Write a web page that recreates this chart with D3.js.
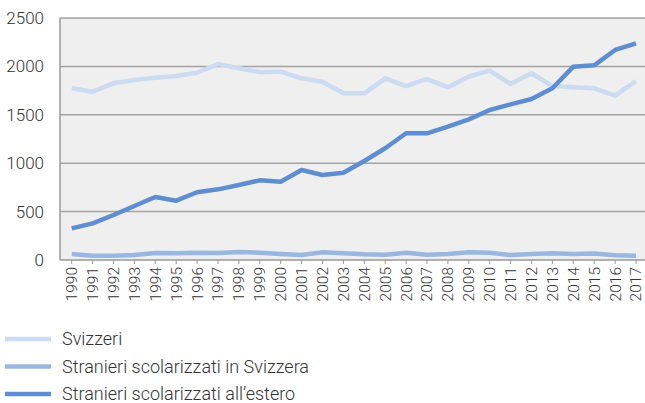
<!DOCTYPE html>
<meta charset="utf-8">
<style>
body { margin: 0; background: #fff; }
text { font-family: Roboto, sans-serif; font-weight: 300; fill: #333; }
.grid line { stroke: #a3a3a3; stroke-width: 1.5px; }
.line { fill: none; stroke-width: 4.5px; stroke-linejoin: round; }
</style>
<svg width="645" height="403"></svg>
<script src="https://d3js.org/d3.v7.min.js"></script>
<script>

var years = d3.range(1990, 2018);
var svizzeri = [1774, 1739, 1825, 1860, 1883, 1901, 1935, 2025, 1980, 1942, 1945, 1877, 1842, 1722,
                1722, 1877, 1797, 1870, 1784, 1894, 1956, 1818, 1929, 1797, 1784, 1774, 1698, 1849];
var inSvizzera = [62, 45, 45, 52, 72, 69, 76, 72, 83, 76, 62, 52, 79, 69,
                  59, 55, 76, 55, 62, 79, 76, 52, 62, 69, 62, 66, 48, 45];
var estero = [327, 379, 465, 558, 651, 613, 700, 730, 775, 823, 809, 930, 878, 902,
              1023, 1154, 1309, 1309, 1377, 1453, 1550, 1608, 1663, 1774, 1997, 2011, 2170, 2238];
var yTicks = [0, 500, 1000, 1500, 2000, 2500];

var series = [
  { name: "Svizzeri", values: svizzeri, color: "#cbdbf1" },
  { name: "Stranieri scolarizzati in Svizzera", values: inSvizzera, color: "#98b7e1" },
  { name: "Stranieri scolarizzati all\u2019estero", values: estero, color: "#5e8ed0" }
];

var svg = d3.select("svg"),
    plotLeft = 60, plotRight = 645, plotTop = 18, plotBottom = 260;

var x = d3.scalePoint().domain(years).range([71.7, 636]);
var y = d3.scaleLinear().domain([0, 2500]).range([plotBottom, plotTop]);

svg.append("rect")
    .attr("x", plotLeft).attr("y", plotTop)
    .attr("width", plotRight - plotLeft).attr("height", plotBottom - plotTop)
    .attr("fill", "#efefef");

svg.append("g").attr("class", "grid")
  .selectAll("line").data(yTicks.slice(1)).enter().append("line")
    .attr("x1", plotLeft).attr("x2", plotRight)
    .attr("y1", function(d) { return y(d); }).attr("y2", function(d) { return y(d); });

// axes
svg.append("line").attr("x1", plotLeft).attr("x2", plotLeft).attr("y1", plotTop).attr("y2", plotBottom)
    .attr("stroke", "#999").attr("stroke-width", 1.5);
svg.append("line").attr("x1", plotLeft).attr("x2", plotRight).attr("y1", plotBottom).attr("y2", plotBottom)
    .attr("stroke", "#999").attr("stroke-width", 1.5);

svg.append("g").selectAll("line").data(years).enter().append("line")
    .attr("x1", function(d) { return x(d); }).attr("x2", function(d) { return x(d); })
    .attr("y1", plotBottom).attr("y2", plotBottom + 4)
    .attr("stroke", "#999");

svg.append("g").selectAll("text").data(yTicks).enter().append("text")
    .attr("x", 44).attr("y", function(d) { return y(d); })
    .attr("dy", "0.35em").attr("text-anchor", "end")
    .style("font-size", "17px")
    .text(function(d) { return d; });

svg.append("g").selectAll("text").data(years).enter().append("text")
    .attr("transform", function(d) { return "translate(" + x(d) + ",267) rotate(-90)"; })
    .attr("dy", "0.35em").attr("text-anchor", "end")
    .style("font-size", "15.5px")
    .text(function(d) { return d; });

var line = d3.line()
    .x(function(d, i) { return x(years[i]); })
    .y(function(d) { return y(d); });

svg.append("g").selectAll("path").data(series).enter().append("path")
    .attr("class", "line")
    .attr("stroke", function(d) { return d.color; })
    .attr("d", function(d) { return line(d.values); });

// legend
var legend = svg.append("g").selectAll("g").data(series).enter().append("g")
    .attr("transform", function(d, i) { return "translate(0," + (339 + i * 27.5) + ")"; });
legend.append("line").attr("x1", 5).attr("x2", 51)
    .attr("stroke", function(d) { return d.color; }).attr("stroke-width", 4.5);
legend.append("text").attr("x", 62).attr("dy", "0.35em")
    .style("font-size", "18px")
    .text(function(d) { return d.name; });

</script>
